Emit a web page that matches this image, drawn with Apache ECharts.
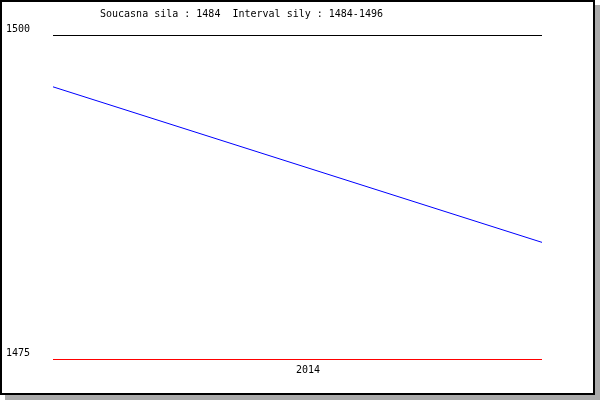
<!DOCTYPE html>
<html>
<head>
<meta charset="utf-8">
<style>
html,body{margin:0;padding:0;background:#fff;}
#chart{width:600px;height:400px;}
</style>
<script src="https://cdn.jsdelivr.net/npm/echarts@6/dist/echarts.min.js"></script>
</head>
<body>
<div id="chart"></div>
<script>
var titleText = 'Soucasna sila : 1484  Interval sily : 1484-1496';
var yearLabel = '2014';
var xPositions = [0, 1];
var strengthValues = [1496, 1484];
var yMin = 1475;
var yMax = 1500;

var mono = 'DejaVu Sans Mono, Liberation Mono, monospace';
var chart = echarts.init(document.getElementById('chart'), null, {renderer: 'canvas'});
chart.setOption({
  animation: false,
  backgroundColor: 'transparent',
  graphic: [
    {type: 'rect', z: -10, shape: {x: 5, y: 5, width: 595, height: 395}, style: {fill: '#aaaaaa'}},
    {type: 'rect', z: -9, shape: {x: 1, y: 1, width: 593, height: 393}, style: {fill: '#ffffff', stroke: '#000000', lineWidth: 2}}
  ],
  title: {
    text: titleText,
    left: 95, top: 4,
    textStyle: {fontFamily: mono, fontSize: 10, fontWeight: 'normal', color: '#000'}
  },
  grid: {left: 53, right: 58, top: 35, bottom: 41, containLabel: false},
  xAxis: {
    type: 'value', min: 0, max: 1,
    axisLine: {show: false},
    axisTick: {show: false}, axisLabel: {show: false}, splitLine: {show: false},
    name: yearLabel, nameLocation: 'middle', nameGap: 6,
    nameTextStyle: {fontFamily: mono, fontSize: 10, color: '#000', verticalAlign: 'top', padding: [0, 0, 0, 21]}
  },
  yAxis: {
    type: 'value', min: yMin, max: yMax, interval: 25,
    axisLine: {show: false}, axisTick: {show: false},
    axisLabel: {fontFamily: mono, fontSize: 10, color: '#000', align: 'left', margin: 47, verticalAlign: 'bottom', padding: [0,0,1,0],
      formatter: function (v) { return String(v); }},
    splitLine: {show: false}
  },
  series: [{
    type: 'line',
    data: xPositions.map(function (x, i) { return [x, strengthValues[i]]; }),
    showSymbol: false, symbol: 'none',
    lineStyle: {color: '#0000ff', width: 1},
    itemStyle: {color: '#0000ff'},
    z: 3,
    markLine: {
      silent: true, symbol: 'none', animation: false,
      label: {show: false},
      data: [
        {yAxis: yMax, lineStyle: {color: '#000000', width: 1, type: 'solid'}},
        {yAxis: yMin, lineStyle: {color: '#ff0000', width: 1, type: 'solid'}}
      ]
    }
  }]
});
</script>
</body>
</html>
